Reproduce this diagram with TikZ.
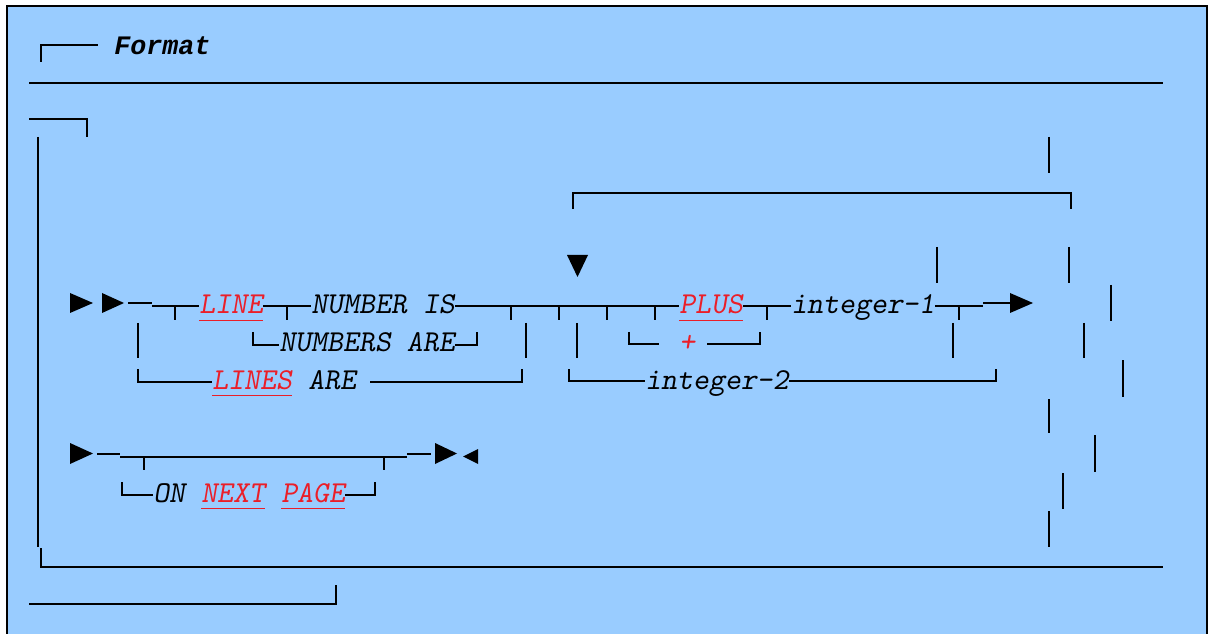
\documentclass[tikz,border=0pt]{standalone}
\usepackage{fontspec}
\newfontfamily\headfont{Liberation Mono}
\definecolor{panel}{RGB}{153,204,255}
\definecolor{kwred}{RGB}{235,30,40}
\begin{document}
\begin{tikzpicture}[x=0.75pt,y=-0.75pt,
  rail/.style={line width=1.6pt},
  tick/.style={line width=1.1pt},
  txt/.style={anchor=base west,inner sep=0pt,font=\fontsize{22.8}{27}\selectfont\ttfamily\slshape},
  kw/.style={txt,text=kwred},
  ul/.style={kwred,line width=0.8pt}]
\useasboundingbox (0,0) rectangle (1209,634);
\fill[white] (0,0) rectangle (1209,634);
\fill[panel] (7,6) rectangle (1207,634);
\draw[line width=0.9pt] (7,634) -- (7,6) -- (1207,6) -- (1207,634);

% heading and frame
\draw[rail] (41,62) -- (41,45) -- (98,45);
\node[txt,font=\fontsize{20}{24}\selectfont\headfont\bfseries\itshape] (fmt) at (114,55) {Format};
\draw[rail] (29,83) -- (1163,83);
\draw[rail] (29,119) -- (87,119) -- (87,137);
\draw[rail] (38,137) -- (38,547);
\draw[rail] (41,548) -- (41,567) -- (1163,567);
\draw[rail] (29,604) -- (336,604) -- (336,585);

% first line
\fill (70,293) -- (93,303) -- (70,313) -- cycle;
\fill (102,293) -- (124,303) -- (102,313) -- cycle;
\draw[rail] (128,303) -- (152,303);
\node[kw] (kline) at (199,314) {LINE};
\node[txt] (numis) at (311,314) {NUMBER IS};
\node[kw] (plus) at (679,314) {PLUS};
\node[txt] (int1) at (791,314) {integer-1};
\draw[rail] (152,306) -- (kline.west |- 0,306);
\draw[rail] (kline.east |- 0,306) -- (numis.west |- 0,306);
\draw[rail] (numis.east |- 0,306) -- (plus.west |- 0,306);
\draw[rail] (plus.east |- 0,306) -- (int1.west |- 0,306);
\draw[rail] (int1.east |- 0,306) -- (983,306);
\draw[rail] (983,303) -- (1010,303);
\fill (1010,293) -- (1033,303) -- (1010,313) -- cycle;
\foreach \x in {175,287,511,559,607,655,767,959}
  \draw[tick] (\x,306) -- (\x,320);

% second line
\node[txt] (nums) at (279,352) {NUMBERS ARE};
\node[kw] (sign) at (679,352) {+};
\draw[rail] (253,332) -- (253,345) -- (nums.west |- 0,345);
\draw[rail] (nums.east |- 0,345) -- (477,345) -- (477,332);
\draw[rail] (629,332) -- (629,344) -- (659,344);
\draw[rail] (707,344) -- (760,344) -- (760,332);
\foreach \x in {138,526,577,953}
  \draw[rail] (\x,323) -- (\x,358);

% third line
\node[kw] (lines) at (212,389) {LINES};
\node[txt] (are) at (308,389) {ARE};
\node[txt] (int2) at (645,389) {integer-2};
\draw[rail] (138,369) -- (138,382) -- (lines.west |- 0,382);
\draw[rail] (370,382) -- (522,382) -- (522,369);
\draw[rail] (569,369) -- (569,381) -- (int2.west |- 0,381);
\draw[rail] (int2.east |- 0,381) -- (996,381) -- (996,369);

% page line
\fill (70,443) -- (93,453.5) -- (70,464) -- cycle;
\draw[rail] (97,454) -- (120,454);
\draw[rail] (120,457) -- (407,457);
\draw[rail] (407,454) -- (431,454);
\fill (435,443) -- (457,453.5) -- (435,464) -- cycle;
\fill (478,449) -- (463,456.5) -- (478,464) -- cycle;
\foreach \x in {144,384}
  \draw[tick] (\x,457) -- (\x,470);
\node[txt] (on) at (153,502) {ON};
\node[kw] (next) at (201,502) {NEXT};
\node[kw] (page) at (281,502) {PAGE};
\draw[rail] (122,482) -- (122,495) -- (on.west |- 0,495);
\draw[rail] (page.east |- 0,495) -- (375,495) -- (375,482);

% underlines
\foreach \n in {kline,plus,lines,next,page}
  \draw[ul] ([yshift=-4.8pt]\n.base west) -- ([yshift=-4.8pt]\n.base east);

% repeat bracket and loose bars
\draw[rail] (573,209) -- (573,193) -- (1071,193) -- (1071,209);
\fill (567,255) -- (588,255) -- (577.5,277) -- cycle;
\foreach \x/\a/\b in {1049/137/173,937/247/283,1069/247/283,1111/285/321,
    1084/323/358,1123/360/397,1049/399/433,1095/435/472,1063/473/509,1049/511/547}
  \draw[rail] (\x,\a) -- (\x,\b);
\end{tikzpicture}
\end{document}
